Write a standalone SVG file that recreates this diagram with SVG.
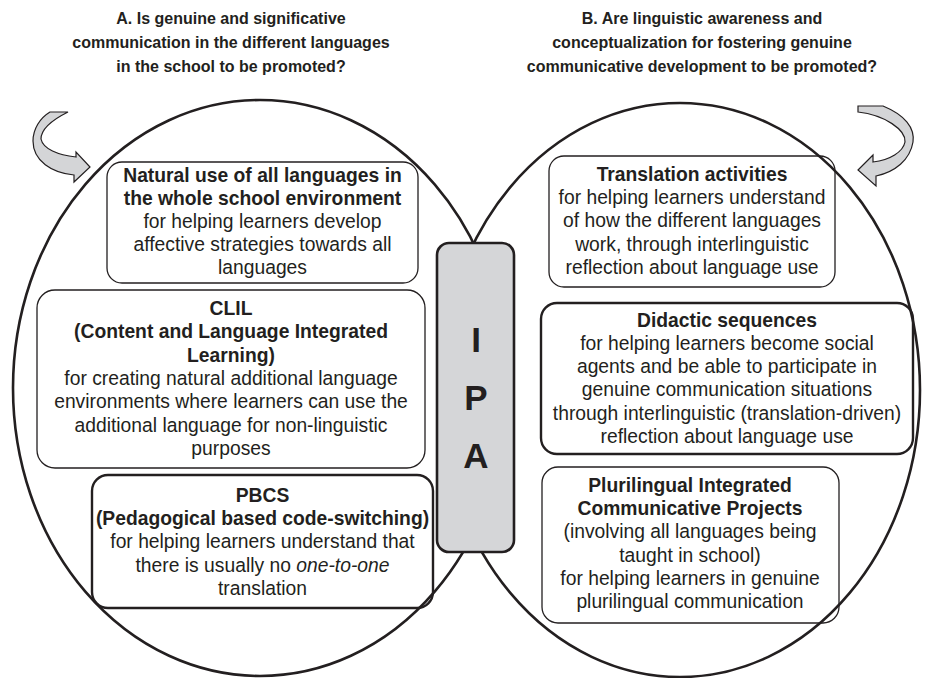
<svg xmlns="http://www.w3.org/2000/svg" width="928" height="678" viewBox="0 0 928 678">
<style>
text{font-family:"Liberation Sans",Arial,sans-serif;fill:#231f20;text-anchor:middle}
.t{font-size:16px;font-weight:bold}
.b{font-size:19.3px;font-weight:bold}
.r{font-size:19.3px}
.ipa{font-size:35px;font-weight:bold}
.thin{fill:none;stroke:#231f20;stroke-width:1.3}
.thick{fill:none;stroke:#231f20;stroke-width:2.4}
.ell{fill:none;stroke:#231f20;stroke-width:2.6}
.arr{fill:#d4d5d7;stroke:#231f20;stroke-width:1.2;stroke-linejoin:miter}
</style>
<g id="titleA">
<text class="t" x="231" y="24">A. Is genuine and significative</text>
<text class="t" x="231" y="48">communication in the different languages</text>
<text class="t" x="231" y="72">in the school to be promoted?</text>
</g>
<g id="titleB">
<text class="t" x="702" y="24">B. Are linguistic awareness and</text>
<text class="t" x="702" y="48">conceptualization for fostering genuine</text>
<text class="t" x="702" y="72">communicative development to be promoted?</text>
</g>
<g id="connectors">
<ellipse id="circleA" class="ell" cx="260" cy="388" rx="247" ry="288"/>
<ellipse id="circleB" class="ell" cx="680" cy="390" rx="240" ry="287"/>
<path id="arrowA" class="arr" d="M50 112 L68 112 C52 120 41 129 41 139 C43 149 58 155 76 157 L76 152 L90 167 L74 182 L74 175 C52 173 33 161 33 141 C33 129 40 118 50 112 Z"/>
<path id="arrowB" class="arr" d="M858 106 L883 106 C905 115 915 128 913 142 C910 160 895 172 876 176 L876 186 L858 170 L873 155 L873 162 C890 160 903 152 905 142 C906 130 885 115 858 112 Z"/>
</g>
<g id="natural">
<rect class="thin" x="107" y="162" width="311" height="121" rx="15"/>
<text class="b" x="262.5" y="182">Natural use of all languages in</text>
<text class="b" x="262.5" y="205">the whole school environment</text>
<text class="r" x="262.5" y="228">for helping learners develop</text>
<text class="r" x="262.5" y="251">affective strategies towards all</text>
<text class="r" x="262.5" y="274">languages</text>
</g>
<g id="clil">
<rect class="thin" x="37" y="290" width="388" height="178" rx="18"/>
<text class="b" x="231" y="315">CLIL</text>
<text class="b" x="231" y="338">(Content and Language Integrated</text>
<text class="b" x="231" y="362">Learning)</text>
<text class="r" x="231" y="385">for creating natural additional language</text>
<text class="r" x="231" y="408">environments where learners can use the</text>
<text class="r" x="231" y="432">additional language for non-linguistic</text>
<text class="r" x="231" y="455">purposes</text>
</g>
<g id="pbcs">
<rect class="thick" x="92" y="475" width="341" height="133" rx="16"/>
<text class="b" x="262.5" y="502">PBCS</text>
<text class="b" x="262.5" y="525">(Pedagogical based code-switching)</text>
<text class="r" x="262.5" y="548">for helping learners understand that</text>
<text class="r" x="262.5" y="572">there is usually no <tspan font-style="italic">one-to-one</tspan></text>
<text class="r" x="262.5" y="595">translation</text>
</g>
<g id="translation">
<rect class="thin" x="549" y="156" width="286" height="131" rx="15"/>
<text class="b" x="692" y="181">Translation activities</text>
<text class="r" x="692" y="204">for helping learners understand</text>
<text class="r" x="692" y="227">of how the different languages</text>
<text class="r" x="692" y="251">work, through interlinguistic</text>
<text class="r" x="692" y="274">reflection about language use</text>
</g>
<g id="didactic">
<rect class="thick" x="541" y="303" width="372" height="151" rx="16"/>
<text class="b" x="727" y="327">Didactic sequences</text>
<text class="r" x="727" y="350">for helping learners become social</text>
<text class="r" x="727" y="373">agents and be able to participate in</text>
<text class="r" x="727" y="396">genuine communication situations</text>
<text class="r" x="727" y="420">through interlinguistic (translation-driven)</text>
<text class="r" x="727" y="443">reflection about language use</text>
</g>
<g id="plurilingual">
<rect class="thin" x="542" y="467" width="297" height="156" rx="16"/>
<text class="b" x="690" y="492">Plurilingual Integrated</text>
<text class="b" x="690" y="515">Communicative Projects</text>
<text class="r" x="690" y="538">(involving all languages being</text>
<text class="r" x="690" y="562">taught in school)</text>
<text class="r" x="690" y="585">for helping learners in genuine</text>
<text class="r" x="690" y="608">plurilingual communication</text>
</g>
<g id="ipa">
<rect x="437" y="243" width="77" height="309" rx="12" fill="#d5d6d8" stroke="#231f20" stroke-width="2.6"/>
<text class="ipa" x="476" y="352">I</text>
<text class="ipa" x="476" y="410">P</text>
<text class="ipa" x="476" y="468">A</text>
</g>
</svg>
